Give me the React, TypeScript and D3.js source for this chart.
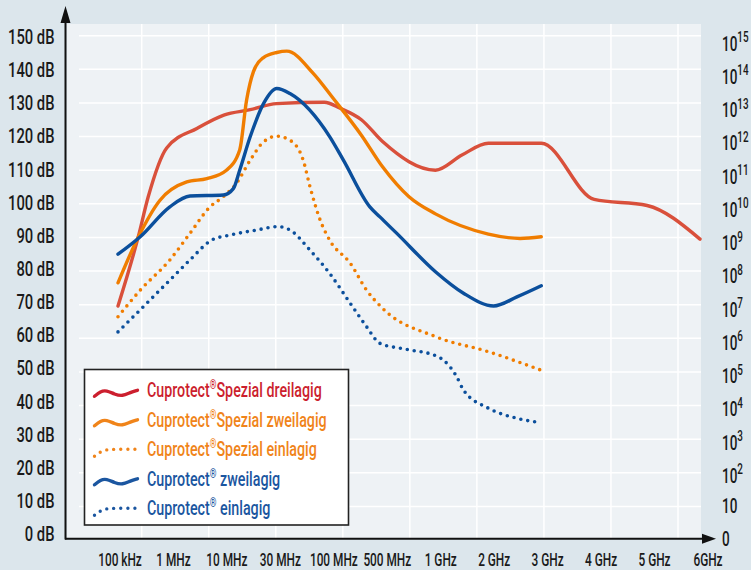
import * as d3 from 'd3';
import React, { useEffect, useRef } from 'react';

// frequency categories along the bottom
const categories = ['100 kHz', '1 MHz', '10 MHz', '30 MHz', '100 MHz', '500 MHz', '1 GHz', '2 GHz', '3 GHz', '4 GHz', '5 GHz', '6GHz'];
const dbTicks = [0, 10, 20, 30, 40, 50, 60, 70, 80, 90, 100, 110, 120, 130, 140, 150];
const powerLabels = ['0', '10', '10^2', '10^3', '10^4', '10^5', '10^6', '10^7', '10^8', '10^9', '10^10', '10^11', '10^12', '10^13', '10^14', '10^15'];

// [category position, dB]
const spezialDrei: [number, number][] = [
    [0, 69.6], [0.38, 90], [0.57, 102], [0.92, 116.6], [1.5, 122.5], [2, 126.4], [2.5, 128], [3, 129.8],
    [3.9, 130.2], [4.2, 128.4], [4.6, 125], [5, 118.5], [6, 110], [6.5, 114.5], [7, 118], [8, 118],
    [9, 101.3], [10, 99.5], [11, 89.5],
];
const spezialZwei: [number, number][] = [
    [0, 76.5], [0.38, 90], [0.79, 101], [1.3, 106.5], [1.68, 107.5], [2.05, 110], [2.3, 116], [2.43, 130.8],
    [2.56, 139.3], [2.75, 143.5], [3, 145], [3.19, 145.4], [3.69, 138.8], [4.07, 131.3], [4.6, 120.4],
    [5, 111], [5.5, 102.1], [6, 97], [7, 91], [7.6, 89.7], [8, 90.2],
];
const spezialEin: [number, number][] = [
    [0, 66.4], [0.42, 74.3], [0.98, 83.3], [1.36, 91.2], [1.74, 99.1], [1.99, 102.1], [2.24, 106.1], [2.5, 113],
    [2.75, 118.4], [3, 120.1], [3.25, 118.9], [3.5, 113], [3.63, 105], [3.82, 95.2], [4, 89.2], [4.39, 82.3],
    [4.7, 74.3], [5, 68.9], [6, 60.5], [7, 56], [8, 50.5],
];
const cuproZwei: [number, number][] = [
    [0, 85], [0.42, 90.2], [0.98, 99.1], [1.36, 102.3], [1.99, 102.6], [2.18, 104.5], [2.3, 110], [2.5, 120],
    [2.75, 129.8], [3, 134.3], [3.25, 132.8], [4, 120], [4.26, 113], [4.76, 99.1], [4.95, 96.1], [5.27, 91.2],
    [6, 79.8], [6.53, 73.4], [7.1, 69.6], [7.54, 72.3], [8, 75.6],
];
const cuproEin: [number, number][] = [
    [0, 61.9], [0.48, 69.4], [0.98, 77.3], [1.36, 83.3], [1.77, 89.2], [2.12, 90.7], [2.62, 92.2], [3.03, 93.2],
    [3.25, 92.2], [3.63, 86.2], [4, 79.3], [4.39, 70.4], [4.7, 63.4], [4.95, 58.5], [5.46, 56.7], [6.02, 54.7],
    [6.15, 53.5], [6.4, 48.6], [6.53, 44.6], [7, 39.2], [7.54, 36.2], [8, 34.9],
];

const RED = '#d9503b';
const ORANGE = '#f07d00';
const BLUE = '#0b4f9c';

const series = [
    { label: ['Cuprotect', '®', 'Spezial dreilagig'], data: spezialDrei, color: RED, text: '#cc1f2e', dotted: false },
    { label: ['Cuprotect', '®', 'Spezial zweilagig'], data: spezialZwei, color: ORANGE, text: '#f0841a', dotted: false },
    { label: ['Cuprotect', '®', 'Spezial einlagig'], data: spezialEin, color: ORANGE, text: '#f0841a', dotted: true },
    { label: ['Cuprotect', '®', ' zweilagig'], data: cuproZwei, color: BLUE, text: '#1b56a0', dotted: false },
    { label: ['Cuprotect', '®', ' einlagig'], data: cuproEin, color: BLUE, text: '#1b56a0', dotted: true },
];

const FONT = "Roboto, 'Noto Sans', sans-serif";
const SX = 0.72; // squeeze to look like the condensed face of the original

export default function App() {
    const width = 751;
    const height = 570;
    const ref = useRef<SVGSVGElement>(null);

    useEffect(() => {
        const svg = d3.select(ref.current);
        svg.selectAll('*').remove();

        const x = d3.scaleLinear().domain([0, categories.length - 1]).range([118, 700]);
        const labelX = d3.scalePoint().domain(categories).range([120, 708]);
        const y = d3.scaleLinear().domain([0, 150]).range([540, 35.7]);
        // tick text sits slightly off the grid in the original
        const labelY = d3.scaleLinear().domain([0, 150]).range([534, 36.8]);
        const gridX = d3.scaleLinear().domain([0, 8]).range([141.7, 678]);

        svg.append('rect').attr('width', width).attr('height', height).attr('fill', '#dce6ec');
        svg.append('rect')
            .attr('x', 67)
            .attr('y', 24)
            .attr('width', 634)
            .attr('height', 515)
            .attr('fill', '#eef2f5');

        // grid
        const grid = svg.append('g').attr('stroke', '#ffffff').attr('stroke-width', 1.5);
        grid.selectAll('.hl')
            .data(dbTicks.filter((d) => d > 0))
            .join('line')
            .attr('x1', 79)
            .attr('x2', 701)
            .attr('y1', (d) => y(d))
            .attr('y2', (d) => y(d));
        grid.selectAll('.vl')
            .data(d3.range(9))
            .join('line')
            .attr('x1', (d) => gridX(d))
            .attr('x2', (d) => gridX(d))
            .attr('y1', 24)
            .attr('y2', 539);

        // curves
        const line = d3
            .line<[number, number]>()
            .x((d) => x(d[0]))
            .y((d) => y(d[1]))
            .curve(d3.curveMonotoneX);

        const order = [0, 1, 2, 4, 3];
        order.forEach((i) => {
            const s = series[i];
            svg.append('path')
                .attr('d', line(s.data))
                .attr('fill', 'none')
                .attr('stroke', s.color)
                .attr('stroke-width', s.dotted ? 3.6 : 3.4)
                .attr('stroke-linecap', 'round')
                .attr('stroke-dasharray', s.dotted ? '0 7' : null);
        });

        // axes
        const axis = svg.append('g').attr('stroke', '#111').attr('fill', '#111');
        axis.append('line').attr('x1', 65.5).attr('x2', 65.5).attr('y1', 539.5).attr('y2', 20).attr('stroke-width', 2);
        axis.append('path').attr('d', 'M65.5,6 L60.5,23 L70.5,23 Z').attr('stroke', 'none');
        axis.append('line').attr('x1', 65).attr('x2', 705).attr('y1', 538.7).attr('y2', 538.7).attr('stroke-width', 2);
        axis.append('path').attr('d', 'M716,538.7 L702,533.7 L702,543.7 Z').attr('stroke', 'none');

        const labels = svg.append('g')
            .attr('font-family', FONT)
            .attr('font-weight', 500)
            .attr('fill', '#1a1a1a')
            .attr('font-size', 20.5);
        labels.selectAll('.yl')
            .data(dbTicks)
            .join('text')
            .attr('transform', (d) => `translate(54.5,${labelY(d) + 7.2}) scale(${SX},1)`)
            .attr('text-anchor', 'end')
            .text((d) => `${d} dB`);

        labels.selectAll('.xl')
            .data(categories)
            .join('text')
            .attr('transform', (d) => `translate(${labelX(d)},${565.5}) scale(0.64,1)`)
            .attr('text-anchor', 'middle')
            .attr('font-size', 18.5)
            .text((d) => d);

        // right-hand scale: 0, 10, then powers of ten
        const rightY = (i: number) => (i === 0 ? 539 : i === 1 ? 505.7 : 475.7 - (i - 2) * 33.25);
        const right = labels.selectAll('.rl')
            .data(powerLabels)
            .join('text')
            .attr('transform', (d, i) => `translate(722,${rightY(i) + 7.2}) scale(0.66,1)`);
        right.append('tspan').text((d) => d.split('^')[0]);
        right.filter((d) => d.includes('^'))
            .append('tspan')
            .attr('font-size', 15)
            .attr('dy', -8.5)
            .text((d) => d.split('^')[1]);

        // legend
        const legend = svg.append('g').attr('transform', 'translate(84.5,369.5)');
        legend.append('rect')
            .attr('width', 264)
            .attr('height', 155.5)
            .attr('fill', '#ffffff')
            .attr('stroke', '#222')
            .attr('stroke-width', 1.6);

        const wave = d3.line().curve(d3.curveBasis);
        const solidGlyph: [number, number][] = [[0, 5], [6, 0], [12, -1], [20, 3], [28, 5], [36, 1], [43, -1]];
        const dottedGlyph: [number, number][] = [[0, 6], [8, 0], [16, -1], [30, -1], [43, -1]];

        series.forEach((s, i) => {
            const row = legend.append('g').attr('transform', `translate(0,${27.8 + i * 29.5})`);
            row.append('path')
                .attr('transform', 'translate(10,-6)')
                .attr('d', wave(s.dotted ? dottedGlyph : solidGlyph))
                .attr('fill', 'none')
                .attr('stroke', s.text)
                .attr('stroke-width', 3.4)
                .attr('stroke-linecap', 'round')
                .attr('stroke-dasharray', s.dotted ? '0 7' : null);
            const t = row.append('text')
                .attr('transform', `translate(62.5,0) scale(0.68,1)`)
                .attr('font-family', FONT)
                .attr('font-weight', 500)
                .attr('font-size', 21)
                .attr('fill', s.text);
            t.append('tspan').text(s.label[0]);
            t.append('tspan').attr('font-size', 12.5).attr('dy', -8).text(s.label[1]);
            t.append('tspan').attr('dy', 8).text(s.label[2]);
        });
    }, []);

    return (
        <div className="chart">
            <svg ref={ref} width={width} height={height} style={{ position: 'absolute', left: 0, top: 0 }}></svg>
        </div>
    );
}
